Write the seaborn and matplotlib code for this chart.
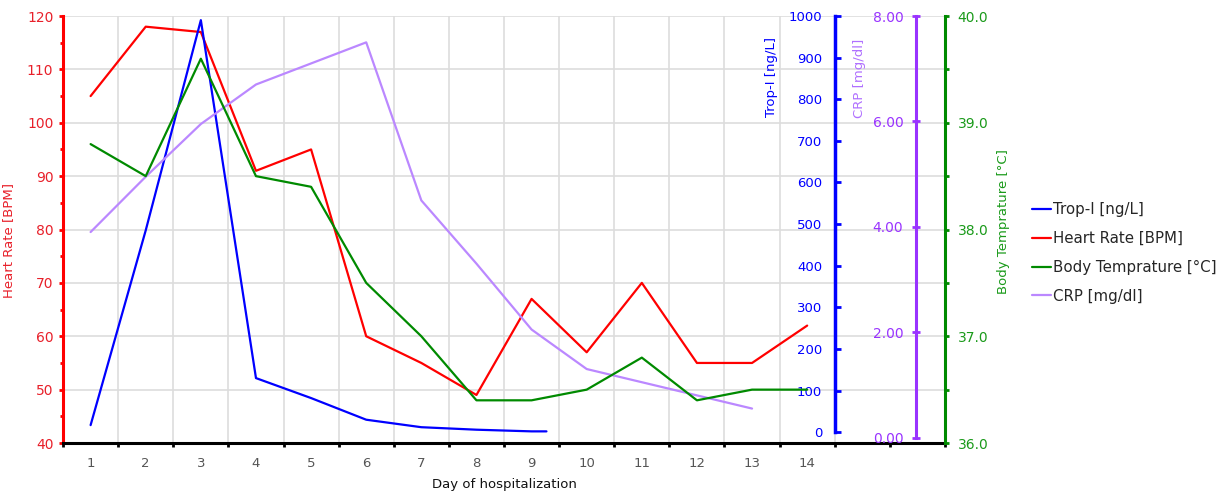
import numpy as np
import pandas as pd
import matplotlib
matplotlib.use("Agg")
import matplotlib.pyplot as plt
import seaborn as sns
from matplotlib.ticker import MultipleLocator, FixedLocator, NullFormatter

# white background, then set the font
sns.set_style("white")
plt.rcParams['font.family'] = ['DejaVu Sans']

# data
days = [1, 2, 3, 4, 5, 6, 7, 8, 9, 10, 11, 12, 13, 14]
heart_rate = [105, 118, 117, 91, 95, 60, 55, 49, 67, 57, 70, 55, 55, 62]
body_temp = [38.8, 38.5, 39.6, 38.5, 38.4, 37.5, 37.0, 36.4, 36.4, 36.5, 36.8, 36.4, 36.5, 36.5]
crp_days = [1, 2, 3, 4, 5, 6, 7, 8, 9, 10, 11, 12, 13]
crp = [3.9, 4.95, 5.95, 6.7, 7.1, 7.5, 4.5, 3.3, 2.05, 1.3, 1.05, 0.8, 0.55]
trop_days = [1, 2, 3, 4, 5, 6, 7, 8, 9, 9.27]
trop = [17, 485, 990, 130, 82, 30, 12, 6, 2, 2]
tick_days = [1, 2, 3, 4, 5, 6, 7, 8, 9, 10, 11, 12, 13, 14]

RED = '#ff0000'
BLUE = '#0000ff'
GREEN = '#008a00'
CRP_LINE = '#bb88ff'
PURPLE = '#9933ff'

fig = plt.figure(figsize=(12.29, 4.94), dpi=100)
ax = fig.add_axes([0.0513, 0.1032, 0.7176, 0.8644])
ax_t = ax.twinx()
ax_c = ax.twinx()
ax_b = ax.twinx()

# lines
sns.lineplot(x=days, y=heart_rate, ax=ax, color=RED, lw=1.6, label='Heart Rate [BPM]')
sns.lineplot(x=trop_days, y=trop, ax=ax_t, color=BLUE, lw=1.6, label='Trop-I [ng/L]')
sns.lineplot(x=days, y=body_temp, ax=ax_b, color=GREEN, lw=1.6, label='Body Temprature [°C]')
sns.lineplot(x=crp_days, y=crp, ax=ax_c, color=CRP_LINE, lw=1.6, label='CRP [mg/dl]')

for a in [ax, ax_t, ax_c, ax_b]:
    if a.get_legend() is not None:
        a.get_legend().remove()
    for s in a.spines.values():
        s.set_visible(False)
    a.set_xlim(0.5, 16.5)

# x axis (category boundaries as ticks, day numbers in the middle)
ax.spines['bottom'].set_visible(True)
ax.spines['bottom'].set_color('black')
ax.spines['bottom'].set_linewidth(2.2)
ax.xaxis.set_major_locator(FixedLocator(np.arange(0.5, 16.6, 1)))
ax.xaxis.set_major_formatter(NullFormatter())
ax.xaxis.set_minor_locator(FixedLocator(tick_days))
ax.set_xticklabels([str(d) for d in tick_days], minor=True)
ax.tick_params(axis='x', which='major', direction='out', length=3, width=2, color='black', bottom=True)
ax.tick_params(axis='x', which='minor', length=0, pad=10, labelsize=9.5, labelcolor='#555555', bottom=True)
ax.set_xlabel('Day of hospitalization', fontsize=9.5, color='#111111', labelpad=6)

# grid
ax.set_axisbelow(True)
ax.grid(True, which='major', color='#dddddd', lw=1.2)
for gl in ax.get_xgridlines()[15:]:
    gl.set_visible(False)

# heart rate axis (left, red)
ax.set_ylim(40, 120)
ax.spines['left'].set_visible(True)
ax.spines['left'].set_color(RED)
ax.spines['left'].set_linewidth(2.2)
ax.yaxis.set_major_locator(MultipleLocator(10))
ax.yaxis.set_minor_locator(MultipleLocator(5))
ax.tick_params(axis='y', which='major', direction='out', length=3, width=2, color=RED,
               labelcolor='#e8202a', labelsize=10, left=True, pad=4)
ax.tick_params(axis='y', which='minor', direction='out', length=2, width=2, color=RED, left=True)
ax.set_ylabel('Heart Rate [BPM]', color='#e8202a', fontsize=9.5)
ax.yaxis.set_label_coords(-0.054, 0.475)

# trop-I axis (blue)
ax_t.set_ylim(-26, 1000)
ax_t.yaxis.tick_left()
ax_t.yaxis.set_label_position('left')
ax_t.spines['left'].set_visible(True)
ax_t.spines['left'].set_position(('axes', 0.875))
ax_t.spines['left'].set_bounds(0, 1000)
ax_t.spines['left'].set_color(BLUE)
ax_t.spines['left'].set_linewidth(2.5)
ax_t.yaxis.set_major_locator(MultipleLocator(100))
ax_t.tick_params(axis='y', direction='in', length=4, width=2, color=BLUE,
                 labelcolor=BLUE, labelsize=9.5, pad=9)
ax_t.set_ylabel('Trop-I [ng/L]', color=BLUE, fontsize=9.5)
ax_t.yaxis.set_label_coords(0.811, 0.857)

# CRP axis (purple)
ax_c.set_ylim(-0.104, 8)
ax_c.yaxis.tick_left()
ax_c.yaxis.set_label_position('left')
ax_c.spines['left'].set_visible(True)
ax_c.spines['left'].set_position(('axes', 0.967))
ax_c.spines['left'].set_bounds(0, 8)
ax_c.spines['left'].set_color(PURPLE)
ax_c.spines['left'].set_linewidth(2.2)
ax_c.yaxis.set_major_locator(MultipleLocator(2))
ax_c.yaxis.set_major_formatter(matplotlib.ticker.FormatStrFormatter('%.2f'))
ax_c.tick_params(axis='y', direction='inout', length=6, width=2, color=PURPLE,
                 labelcolor=PURPLE, labelsize=10, pad=6)
ax_c.set_ylabel('CRP [mg/dl]', color='#b070ff', fontsize=9.5)
ax_c.yaxis.set_label_coords(0.911, 0.855)

# body temperature axis (right, green)
ax_b.set_ylim(36, 40)
ax_b.spines['right'].set_visible(True)
ax_b.spines['right'].set_color(GREEN)
ax_b.spines['right'].set_linewidth(2.2)
ax_b.yaxis.set_major_locator(MultipleLocator(1))
ax_b.yaxis.set_minor_locator(MultipleLocator(0.5))
ax_b.yaxis.set_major_formatter(matplotlib.ticker.FormatStrFormatter('%.1f'))
ax_b.tick_params(axis='y', which='major', direction='out', length=3, width=2, color=GREEN,
                 labelcolor='#1a9a1a', labelsize=10, pad=6)
ax_b.tick_params(axis='y', which='minor', direction='out', length=3, width=2, color=GREEN)
ax_b.set_ylabel('Body Temprature [°C]', color='#1a9a1a', fontsize=9.5)
ax_b.yaxis.set_label_coords(1.059, 0.518)

# legend
handles, labels = [], []
for a in [ax_t, ax, ax_b, ax_c]:
    h, l = a.get_legend_handles_labels()
    handles += h
    labels += l
fig.legend(handles, labels, loc='center left', bbox_to_anchor=(1018 / 1229, 1 - 253 / 494),
           frameon=False, fontsize=10.8, handlelength=1.3, handletextpad=0.15, labelspacing=0.92)

plt.savefig("out.png", dpi=100)
